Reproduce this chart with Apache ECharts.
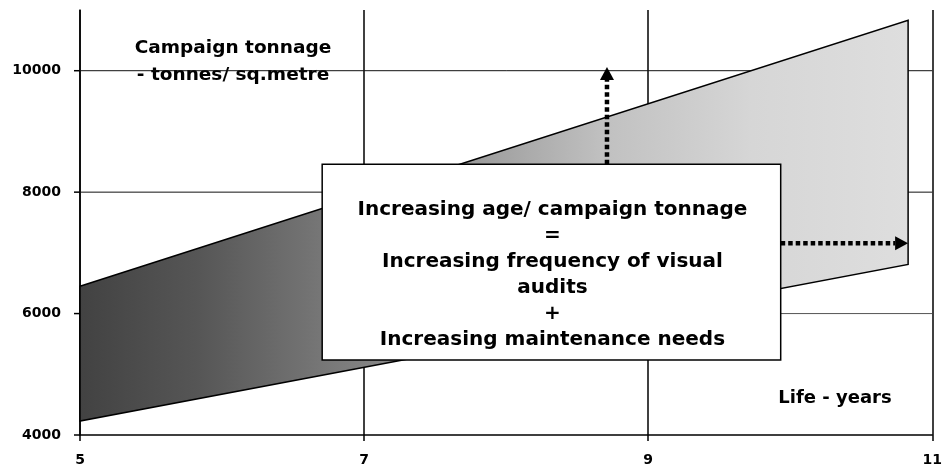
<!DOCTYPE html>
<html><head><meta charset="utf-8">
<script src="https://cdn.jsdelivr.net/npm/echarts@6/dist/echarts.min.js"></script>
<style>html,body{margin:0;padding:0;background:#fff}#c{width:945px;height:468px}</style>
</head><body><div id="c"></div>
<script>
// ---- data ----
const lifeYears = [5, 10.83];          // x of left and right edge of the band
const upperTonnage = [6450, 10830];    // upper edge values
const lowerTonnage = [4230, 6810];     // lower edge values
const xTickValues = [5, 7, 9, 11];
const yTickValues = [4000, 6000, 8000, 10000];
const boxX = [6.705, 9.933];
const boxY = [5235, 8461];
const boxLines = ['Increasing age/ campaign tonnage', '=', 'Increasing frequency of visual', 'audits', '+', 'Increasing maintenance needs'];
const arrowStartX = [8.71, 9.933];
const arrowStartY = [8461, 7160];
const arrowEndX = [8.71, 10.83];
const arrowEndY = [10060, 7160];
const yAxisTitle = ['Campaign tonnage', '- tonnes/ sq.metre'];
const xAxisTitle = 'Life - years';

const FONT = '"DejaVu Sans", "Liberation Sans", sans-serif';
const chart = echarts.init(document.getElementById('c'), null, {renderer: 'canvas'});

const gridSeries = {
  type: 'custom', z: 1, silent: true, clip: false,
  data: yTickValues.map(v => [xTickValues[0], v]),
  renderItem: function (params, api) {
    const v = api.value(1);
    const p = api.coord([xTickValues[0], v]);
    const pr = api.coord([xTickValues[xTickValues.length - 1], v]);
    const children = [{
      type: 'line', shape: {x1: p[0] - 6, y1: p[1], x2: p[0], y2: p[1]},
      style: {stroke: '#000', lineWidth: 1.5}
    }];
    if (params.dataIndex > 0) {
      children.push({
        type: 'line', shape: {x1: p[0], y1: p[1], x2: pr[0], y2: pr[1]},
        style: {stroke: params.dataIndex === 1 ? '#555' : '#111', lineWidth: 1}
      });
    }
    return {type: 'group', children: children};
  }
};

const bandSeries = {
  type: 'custom', z: 2, silent: true,
  data: lifeYears.map((x, i) => [x, lowerTonnage[i], upperTonnage[i]]),
  renderItem: function (params, api) {
    if (params.dataIndex !== 0) return {type: 'group', children: []};
    const n = lifeYears.length;
    const pts = [];
    for (let i = 0; i < n; i++) pts.push(api.coord([lifeYears[i], upperTonnage[i]]));
    for (let i = n - 1; i >= 0; i--) pts.push(api.coord([lifeYears[i], lowerTonnage[i]]));
    return {
      type: 'polygon', shape: {points: pts},
      style: {
        fill: new echarts.graphic.LinearGradient(0, 0, 1, 0, [
          {offset: 0, color: '#424242'},
          {offset: 0.144, color: '#565656'},
          {offset: 0.30, color: '#787878'},
          {offset: 0.47, color: '#9a9a9a'},
          {offset: 0.63, color: '#c0c0c0'},
          {offset: 0.81, color: '#d6d6d6'},
          {offset: 1, color: '#dedede'}
        ]),
        stroke: '#000', lineWidth: 1.5, lineJoin: 'miter'
      }
    };
  }
};

const boxSeries = {
  type: 'custom', z: 3, silent: true,
  data: [[boxX[0], boxY[0]]],
  renderItem: function (params, api) {
    const a = api.coord([boxX[0], boxY[1]]);
    const b = api.coord([boxX[1], boxY[0]]);
    const cx = (a[0] + b[0]) / 2, cy = (a[1] + b[1]) / 2;
    return {
      type: 'group', children: [
        {type: 'rect', shape: {x: a[0], y: a[1], width: b[0] - a[0], height: b[1] - a[1]},
         style: {fill: '#fff', stroke: '#000', lineWidth: 1.5}},
        {type: 'text', style: {
          text: boxLines.join('\n'), x: cx + 1, y: cy + 13,
          align: 'center', verticalAlign: 'middle',
          font: 'bold 20px ' + FONT, lineHeight: 26, fill: '#000'
        }}
      ]
    };
  }
};

const arrowSeries = {
  type: 'custom', z: 4, silent: true,
  data: arrowStartX.map((x, i) => [x, arrowStartY[i], arrowEndX[i], arrowEndY[i]]),
  renderItem: function (params, api) {
    const i = params.dataIndex;
    const p0 = api.coord([arrowStartX[i], arrowStartY[i]]);
    const p1 = api.coord([arrowEndX[i], arrowEndY[i]]);
    const dx = p1[0] - p0[0], dy = p1[1] - p0[1];
    const L = Math.sqrt(dx * dx + dy * dy);
    const ux = dx / L, uy = dy / L;
    const head = 13, hw = 7;
    const bx = p1[0] - ux * head, by = p1[1] - uy * head;
    return {
      type: 'group', children: [
        {type: 'line', shape: {x1: p0[0], y1: p0[1], x2: bx, y2: by},
         style: {stroke: '#000', lineWidth: 4.5, lineDash: [4.5, 3], lineCap: 'butt'}},
        {type: 'polygon', shape: {points: [[p1[0], p1[1]], [bx - uy * hw, by + ux * hw], [bx + uy * hw, by - ux * hw]]},
         style: {fill: '#000'}}
      ]
    };
  }
};

chart.setOption({
  animation: false,
  backgroundColor: '#fff',
  grid: {left: 80, right: 10, top: 10, bottom: 33, containLabel: false},
  xAxis: {
    type: 'value', min: xTickValues[0], max: xTickValues[xTickValues.length - 1], interval: 2,
    axisLine: {show: true, onZero: false, lineStyle: {color: '#000', width: 1.5}},
    axisTick: {show: true, length: 6, lineStyle: {color: '#000', width: 1.5}},
    axisLabel: {color: '#000', fontFamily: FONT, fontWeight: 'bold', fontSize: 14, margin: 18},
    splitLine: {show: true, lineStyle: {color: '#000', width: 1.5}}
  },
  yAxis: {
    type: 'value', min: 4000, max: 11000, interval: 2000,
    axisLine: {show: true, onZero: false, lineStyle: {color: '#000', width: 1.5}},
    axisTick: {show: false},
    axisLabel: {
      color: '#000', fontFamily: FONT, fontWeight: 'bold', fontSize: 14, margin: 19,
      formatter: v => (yTickValues.indexOf(v) >= 0 ? String(v) : '')
    },
    splitLine: {show: false}
  },
  graphic: [
    {type: 'text', x: 233, y: 61.5, silent: true, style: {
      text: yAxisTitle.join('\n'), align: 'center', verticalAlign: 'middle',
      font: 'bold 18.5px ' + FONT, lineHeight: 27, fill: '#000'}},
    {type: 'text', x: 835, y: 398, silent: true, style: {
      text: xAxisTitle, align: 'center', verticalAlign: 'middle',
      font: 'bold 18px ' + FONT, fill: '#000'}}
  ],
  series: [gridSeries, bandSeries, boxSeries, arrowSeries]
});
</script></body></html>
